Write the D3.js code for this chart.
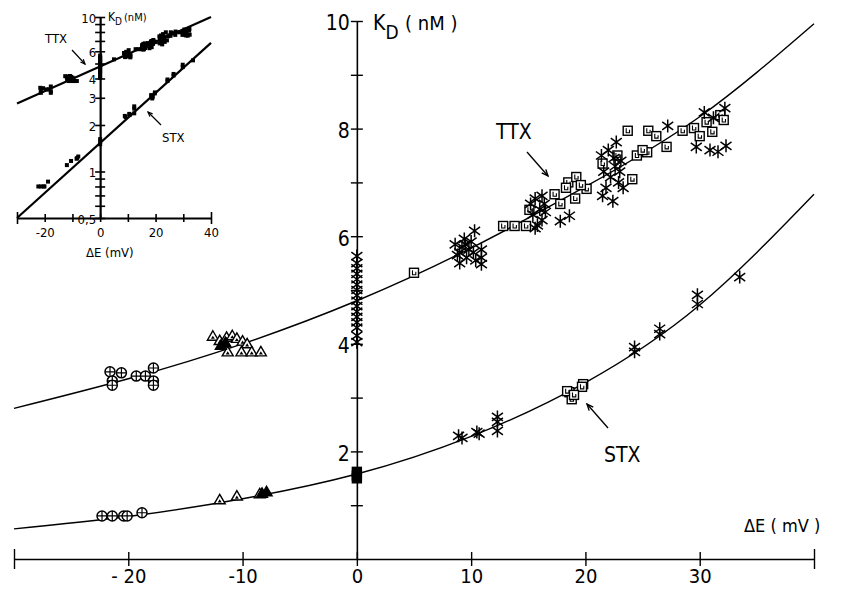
<!DOCTYPE html>
<html><head><meta charset="utf-8">
<script src="https://cdn.jsdelivr.net/npm/d3@7"></script>
<style>
body{margin:0;background:#fff}
svg{display:block;background:#fff}
text{font-family:"Liberation Sans Narrow","DejaVu Sans",sans-serif;font-stretch:condensed;fill:#000}
</style></head><body>
<svg id="c" width="859" height="589"></svg>
<script>
// ---- fitted curves ----
const curveX   = [-30, -20, -10, 0, 10, 20, 30, 40];
const ttxCurve = [2.80, 3.35, 4.00, 4.80, 5.78, 6.92, 8.22, 9.95];
const stxCurve = [0.56, 0.79, 1.12, 1.58, 2.28, 3.28, 4.72, 6.78];

// ---- TTX data ----
const ttxCircles = [[-21.6,3.48],[-21.4,3.31],[-21.4,3.23],[-20.6,3.46],[-19.3,3.40],[-18.5,3.40],[-17.8,3.55],[-17.8,3.31],[-17.8,3.23]];
const ttxTriangles = [[-12.6,4.14],[-12.0,4.06],[-11.4,4.12],[-10.9,4.15],[-10.5,4.10],[-10.0,4.05],[-9.6,4.00],[-11.3,3.85],[-10.1,3.85],[-9.2,3.85],[-8.4,3.85]];
const ttxTrianglesFilled = [[-11.9,3.97],[-11.5,4.02]];
const ttxStars = [[0,5.63],[0,5.50],[0,5.40],[0,5.30],[0,5.20],[0,5.10],[0,5.00],[0,4.90],[0,4.80],[0,4.70],[0,4.60],[0,4.50],[0,4.40],[0,4.30],[0,4.15],[0,4.03],
  [8.6,5.85],[8.8,5.65],[9.0,5.50],[9.2,5.80],[9.4,5.95],[9.6,5.60],[9.8,5.75],[10.0,5.90],[10.2,5.70],[10.4,5.55],[10.3,6.10],[10.9,5.75],[10.9,5.60],[10.9,5.48],[9.0,5.70],[9.5,5.85],
  [15.2,6.60],[15.4,6.40],[15.6,6.70],[15.8,6.20],[16.0,6.50],[16.2,6.30],[16.4,6.60],[16.5,6.45],[15.6,6.15],[16.2,6.75],[17.8,6.28],[18.6,6.38],
  [21.4,7.50],[21.6,7.20],[21.8,6.90],[22.0,7.60],[22.2,7.10],[22.4,6.65],[22.6,7.30],[22.7,7.75],[22.9,7.00],[23.1,7.40],[23.3,6.90],[21.5,6.75],[22.5,7.45],[23.0,7.20],
  [27.2,8.05],[29.7,7.66],[30.9,7.60],[31.6,7.57],[32.3,7.68],[32.2,8.38],[30.4,8.30],[31.2,8.20]];
const ttxSquares = [[5.0,5.32],[12.8,6.19],[13.8,6.19],[14.8,6.19],[15.1,6.49],[17.3,6.78],[17.8,6.60],[18.5,7.00],[19.2,7.10],[19.1,6.70],[20.1,6.88],[18.3,6.90],[19.6,6.95],
  [21.5,7.35],[22.8,7.50],[24.1,7.06],[23.7,7.96],[25.4,7.56],[25.5,7.96],[26.2,7.86],[27.1,7.66],[28.5,7.96],[24.5,7.50],[25.0,7.60],
  [29.5,8.01],[30.0,7.86],[30.6,8.12],[31.1,7.94],[31.8,8.25],[32.1,8.16]];

// ---- STX data ----
const stxCircles = [[-22.3,0.80],[-21.4,0.80],[-20.4,0.80],[-20.1,0.80],[-18.8,0.86]];
const stxTriangles = [[-12.0,1.10],[-10.5,1.17],[-8.5,1.21]];
const stxTrianglesFilled = [[-7.9,1.25],[-8.3,1.22]];
const stxSquaresFilled = [[0,1.62],[0,1.55],[0,1.50]];
const stxStars = [[8.9,2.29],[9.2,2.25],[10.5,2.36],[10.7,2.33],[12.3,2.55],[12.3,2.38],[12.3,2.64],[24.3,3.94],[24.3,3.85],[26.5,4.28],[26.5,4.18],[29.8,4.91],[29.8,4.74],[33.5,5.24]];
const stxSquares = [[18.6,3.10],[18.8,2.97],[18.4,3.12],[19.8,3.25],[19.7,3.20],[19.0,3.05]];

// ---- tick labels ----
const xTicks = [-30, -20, -10, 0, 10, 20, 30, 40];
const xTickLabels = ["", "- 20", "-10", "0", "10", "20", "30", ""];
const yTicks = [1,2,3,4,5,6,7,8,9,10];
const yTickLabels = ["", "2", "", "4", "", "6", "", "8", "", "10"];
const insetXTicks = [-30,-20,-10,0,10,20,30,40];
const insetXLabels = ["", "-20", "", "0", "", "20", "", "40"];
const insetYTicks = [0.5,0.6,0.7,0.8,0.9,1,2,3,4,5,6,7,8,9,10];
const insetYLabels = {"0.5":"0,5","1":"1","2":"2","3":"3","4":"4","6":"6","10":"10"};
const insetTTXLine = [[-30,2.75],[40,10]];
const insetSTXLine = [[-30,0.5],[40,6.8]];

const FONT = '"Liberation Sans Narrow","DejaVu Sans",sans-serif';
const svg = d3.select("#c");
svg.append("rect").attr("width",859).attr("height",589).attr("fill","#fff");

// ================= MAIN CHART =================
const x = d3.scaleLinear().domain([-30,40]).range([14,814]);
const y = d3.scaleLinear().domain([0,10]).range([559,21]);

// x axis
const xAxisG = svg.append("g").attr("transform",`translate(0,${y(0)})`)
  .call(d3.axisBottom(x).tickValues(xTicks).tickSize(0).tickPadding(0)
    .tickFormat((d,i)=>xTickLabels[i]));
xAxisG.select(".domain").attr("stroke","#000").attr("stroke-width",1.6);
xAxisG.selectAll(".tick line").attr("y1",d=>(d===-30||d===40)?-10:-7).attr("y2",d=>(d===-30||d===40)?10:7)
  .attr("stroke","#000").attr("stroke-width",1.4);
xAxisG.selectAll(".tick text").attr("y",24).attr("dy",0).attr("font-size",20)
  .style("font-family",FONT).style("font-stretch","condensed");

// y axis
const yAxisG = svg.append("g").attr("transform",`translate(${x(0)},0)`)
  .call(d3.axisLeft(y).tickValues(yTicks).tickSize(0).tickPadding(0)
    .tickFormat((d,i)=>yTickLabels[i]));
yAxisG.select(".domain").attr("stroke","#000").attr("stroke-width",1.6);
yAxisG.selectAll(".tick line").attr("x1",-6).attr("x2",6).attr("stroke","#000").attr("stroke-width",1.4);
yAxisG.selectAll(".tick text").attr("x",-7).attr("dy","0.42em").attr("font-size",21)
  .style("font-family",FONT).style("font-stretch","condensed");

// axis titles
const kd = svg.append("text").attr("x",373).attr("y",30).attr("font-size",21);
kd.append("tspan").text("K");
kd.append("tspan").attr("dy",9).attr("font-size",19).text("D");
svg.append("text").attr("x",405).attr("y",30).attr("font-size",20).attr("xml:space","preserve").text("( nM )");
svg.append("text").attr("x",744).attr("y",532).attr("font-size",18).attr("xml:space","preserve").text("\u0394E ( mV )");

// curves
const line = d3.line().x(d=>x(d[0])).y(d=>y(d[1])).curve(d3.curveNatural);
svg.append("path").datum(curveX.map((v,i)=>[v,ttxCurve[i]])).attr("d",line)
  .attr("fill","none").attr("stroke","#000").attr("stroke-width",1.4);
svg.append("path").datum(curveX.map((v,i)=>[v,stxCurve[i]])).attr("d",line)
  .attr("fill","none").attr("stroke","#000").attr("stroke-width",1.4);

// markers
const mk = svg.append("g");
function star(data){
  mk.selectAll(null).data(data).enter().append("path")
    .attr("transform",d=>`translate(${x(d[0])},${y(d[1])})`)
    .attr("d","M0,-6.5V6.5M-5.5,-4L5.5,4M-5.5,4L5.5,-4")
    .attr("stroke","#000").attr("stroke-width",1.5).attr("fill","none");
}
function square(data, filled){
  const g = mk.selectAll(null).data(data).enter().append("g")
    .attr("transform",d=>`translate(${x(d[0])},${y(d[1])})`);
  g.append("rect").attr("x",-4.5).attr("y",-4.5).attr("width",9).attr("height",9)
    .attr("fill",filled?"#000":"#fff").attr("stroke","#000").attr("stroke-width",1.4);
  if(!filled) g.append("path").attr("d","M-1.5,-2.5V2H1.8V-1").attr("fill","none").attr("stroke","#000").attr("stroke-width",1.1);
}
function circle(data){
  const g = mk.selectAll(null).data(data).enter().append("g")
    .attr("transform",d=>`translate(${x(d[0])},${y(d[1])})`);
  g.append("circle").attr("r",5).attr("fill","#fff").attr("stroke","#000").attr("stroke-width",1.5);
  g.append("path").attr("d","M-5,0H5M0,-5V5").attr("stroke","#000").attr("stroke-width",1.2);
}
function triangle(data, filled){
  const g = mk.selectAll(null).data(data).enter().append("g")
    .attr("transform",d=>`translate(${x(d[0])},${y(d[1])})`);
  g.append("path").attr("d","M0,-5.5L5.5,4L-5.5,4Z")
    .attr("fill",filled?"#000":"#fff").attr("stroke","#000").attr("stroke-width",1.4);
  if(!filled) g.append("path").attr("d","M0,-0.5L2,2.6L-2,2.6Z").attr("fill","#000");
}
circle(ttxCircles);
triangle(ttxTriangles,false);
triangle(ttxTrianglesFilled,true);
square(ttxSquares,false);
star(ttxStars);
circle(stxCircles);
triangle(stxTriangles,false);
triangle(stxTrianglesFilled,true);
square(stxSquares,false);
square(stxSquaresFilled,true);
star(stxStars);

// labels with arrows
function arrow(g,x1,y1,x2,y2,len,w){
  g.append("line").attr("x1",x1).attr("y1",y1).attr("x2",x2).attr("y2",y2)
    .attr("stroke","#000").attr("stroke-width",w);
  const a = Math.atan2(y2-y1,x2-x1);
  const p1=[x2-len*Math.cos(a-0.4),y2-len*Math.sin(a-0.4)];
  const p2=[x2-len*Math.cos(a+0.4),y2-len*Math.sin(a+0.4)];
  g.append("path").attr("d",`M${p1}L${x2},${y2}L${p2}`).attr("fill","none")
    .attr("stroke","#000").attr("stroke-width",w);
}
svg.append("text").attr("x",496).attr("y",139).attr("font-size",21).text("TTX");
arrow(svg,527,152,548,176,7,1.4);
svg.append("text").attr("x",604).attr("y",462).attr("font-size",21).text("STX");
arrow(svg,608,428,587,404,7,1.4);

// ================= INSET =================
const ix = d3.scaleLinear().domain([-30,40]).range([17,211]);
const iy = d3.scaleLog().domain([0.5,10]).range([218,17]);
const inset = svg.append("g");

const ixG = inset.append("g").attr("transform",`translate(0,${iy(0.5)})`)
  .call(d3.axisBottom(ix).tickValues(insetXTicks).tickSize(0).tickPadding(0)
    .tickFormat((d,i)=>insetXLabels[i]));
ixG.select(".domain").attr("stroke","#000").attr("stroke-width",2.2);
ixG.selectAll(".tick line").attr("y1",d=>(d===-30||d===40)?-6:-4).attr("y2",d=>(d===-30||d===40)?6:4)
  .attr("stroke","#000").attr("stroke-width",1.6);
ixG.selectAll(".tick text").attr("y",19).attr("dy",0).attr("font-size",13)
  .style("font-family",FONT).style("font-stretch","condensed");

const iyG = inset.append("g").attr("transform",`translate(${ix(0)},0)`)
  .call(d3.axisLeft(iy).tickValues(insetYTicks).tickSize(0).tickPadding(0)
    .tickFormat(d=>insetYLabels[String(d)]||""));
iyG.select(".domain").attr("stroke","#000").attr("stroke-width",2.2);
iyG.selectAll(".tick line").attr("x1",-5).attr("x2",5).attr("stroke","#000").attr("stroke-width",1.6);
iyG.selectAll(".tick text").attr("x",-4).attr("dy","0.4em").attr("font-size",13)
  .style("font-family",FONT).style("font-stretch","condensed");

const ikd = inset.append("text").attr("x",108).attr("y",21).attr("font-size",12);
ikd.append("tspan").text("K");
ikd.append("tspan").attr("dy",4).attr("font-size",10).text("D");
inset.append("text").attr("x",124).attr("y",21).attr("font-size",11).text("(nM)");
inset.append("text").attr("x",86).attr("y",257).attr("font-size",13).text("\u0394E (mV)");

const iline = d3.line().x(d=>ix(d[0])).y(d=>iy(d[1]));
inset.append("path").datum(insetTTXLine).attr("d",iline).attr("stroke","#000").attr("stroke-width",2.2).attr("fill","none");
inset.append("path").datum(insetSTXLine).attr("d",iline).attr("stroke","#000").attr("stroke-width",2.2).attr("fill","none");

const allPts = [].concat(ttxCircles,ttxTriangles,ttxTrianglesFilled,ttxStars,ttxSquares,
  stxCircles,stxTriangles,stxTrianglesFilled,stxSquaresFilled,stxStars,stxSquares);
inset.selectAll(null).data(allPts).enter().append("rect")
  .attr("x",d=>ix(d[0])-2).attr("y",d=>iy(d[1])-2).attr("width",4).attr("height",4).attr("fill","#000");

inset.append("text").attr("x",45).attr("y",43).attr("font-size",13).text("TTX");
arrow(inset,72,50,85,64,5,1.2);
inset.append("text").attr("x",162).attr("y",142).attr("font-size",13).text("STX");
arrow(inset,161,125,148,112,5,1.2);
</script>
</body></html>
